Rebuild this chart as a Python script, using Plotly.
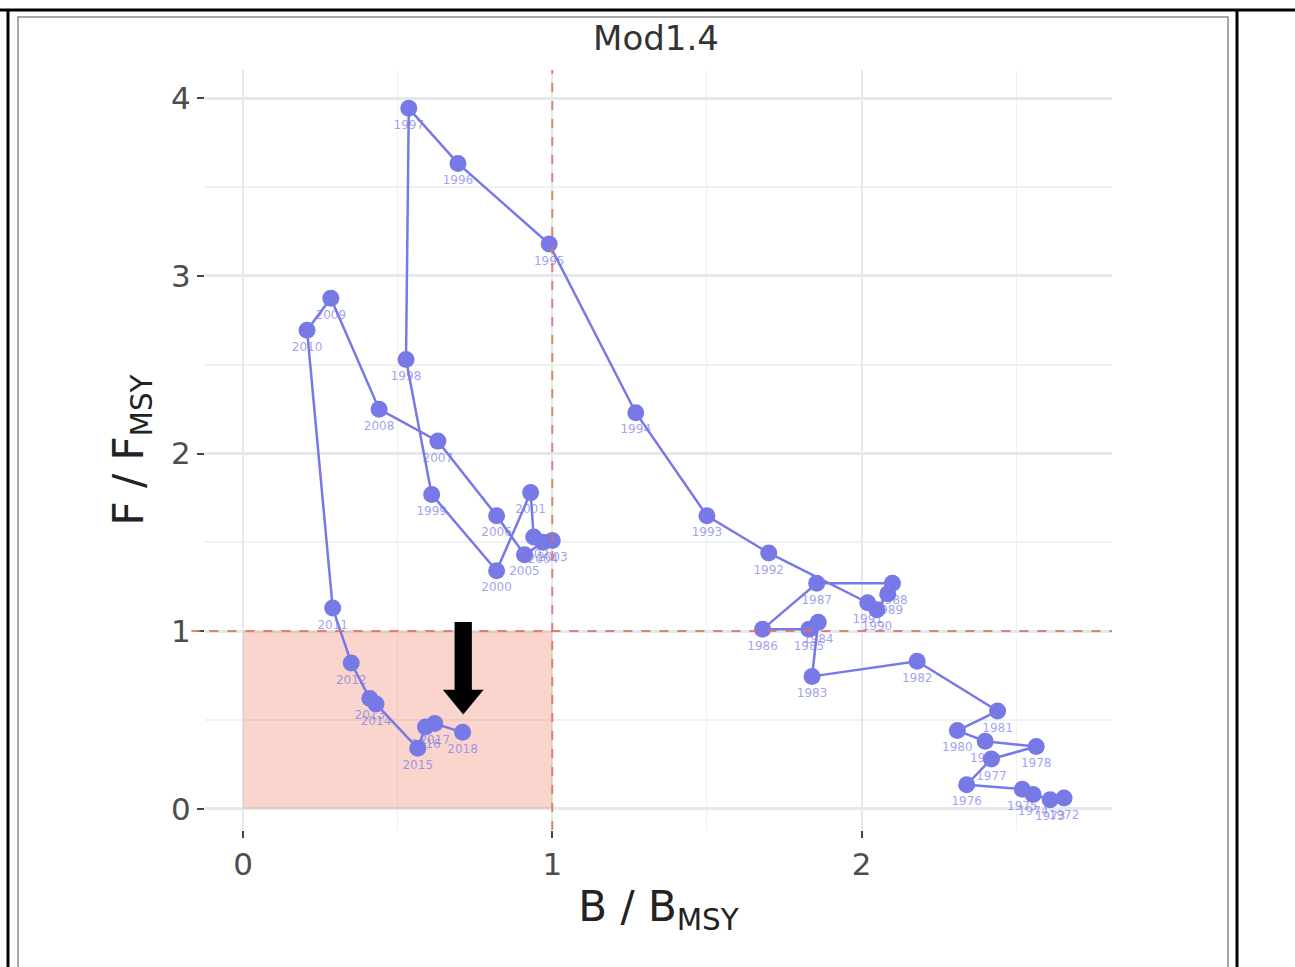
import plotly.graph_objects as go

# ---- data ----
years = list(range(1972, 2019))
b_bmsy = [2.655, 2.61, 2.555, 2.52, 2.34, 2.42, 2.565, 2.40, 2.31, 2.44,
          2.18, 1.84, 1.86, 1.83, 1.68, 1.855, 2.10, 2.085, 2.05, 2.02,
          1.70, 1.50, 1.27, 0.99, 0.695, 0.536, 0.527, 0.61, 0.82, 0.93,
          0.94, 1.0, 0.97, 0.91, 0.82, 0.63, 0.44, 0.284, 0.207, 0.29,
          0.35, 0.41, 0.43, 0.565, 0.59, 0.62, 0.71]
f_fmsy = [0.06, 0.05, 0.08, 0.11, 0.135, 0.28, 0.35, 0.38, 0.44, 0.55,
          0.83, 0.745, 1.05, 1.01, 1.01, 1.27, 1.27, 1.21, 1.12, 1.16,
          1.44, 1.65, 2.23, 3.18, 3.634, 3.944, 2.53, 1.77, 1.34, 1.78,
          1.53, 1.51, 1.50, 1.43, 1.65, 2.07, 2.25, 2.875, 2.695, 1.13,
          0.82, 0.62, 0.59, 0.34, 0.46, 0.48, 0.43]
x_ticks = [0, 1, 2]
y_ticks = [0, 1, 2, 3, 4]
title_text = "Mod1.4"

W, H = 1295, 967
ML, MR, MT, MB = 205, 183, 70, 137
PW, PH = W - ML - MR, H - MT - MB

def px(x):
    return (x - ML) / PW

def py(y):
    return 1 - (y - MT) / PH

pt_color = "#7779e6"

fig = go.Figure()
fig.add_trace(go.Scatter(
    x=b_bmsy, y=f_fmsy, mode="lines+markers+text",
    text=[str(y) for y in years], textposition="bottom center",
    textfont=dict(size=12, color="rgba(120,120,230,0.7)", family="DejaVu Sans"),
    line=dict(color=pt_color, width=2.5),
    marker=dict(color=pt_color, size=17),
    showlegend=False, cliponaxis=False,
))

shapes = []
# pink target zone
shapes.append(dict(type="rect", xref="x", yref="y", x0=0, x1=1, y0=0, y1=1,
                   fillcolor="rgba(235,115,88,0.30)", line=dict(width=0), layer="between"))
# reference lines
shapes.append(dict(type="line", xref="x", yref="paper", x0=1, x1=1, y0=0, y1=1,
                   line=dict(color="rgba(225,110,95,0.85)", width=2, dash="dash"), layer="above"))
shapes.append(dict(type="line", xref="paper", yref="y", x0=-0.015, x1=1, y0=1, y1=1,
                   line=dict(color="rgba(225,110,95,0.85)", width=2, dash="dash"), layer="above"))
# black arrow pointing at the last year
shapes.append(dict(type="rect", xref="x", yref="y", x0=0.684, x1=0.740, y0=0.66, y1=1.052,
                   fillcolor="black", line=dict(width=0), layer="above"))
shapes.append(dict(type="path", xref="x", yref="y",
                   path="M 0.646 0.67 L 0.778 0.67 L 0.712 0.53 Z",
                   fillcolor="black", line=dict(width=0), layer="above"))
# outer frame
shapes.append(dict(type="line", xref="paper", yref="paper", x0=px(0), x1=px(W), y0=py(10), y1=py(10),
                   line=dict(color="black", width=3), layer="above"))
shapes.append(dict(type="line", xref="paper", yref="paper", x0=px(8), x1=px(8), y0=py(10), y1=py(H + 5),
                   line=dict(color="black", width=3), layer="above"))
shapes.append(dict(type="line", xref="paper", yref="paper", x0=px(1237), x1=px(1237), y0=py(10), y1=py(H + 5),
                   line=dict(color="black", width=3), layer="above"))
shapes.append(dict(type="rect", xref="paper", yref="paper", x0=px(18), x1=px(1228), y0=py(17), y1=py(H + 5),
                   line=dict(color="#8a8a8a", width=1.5), fillcolor="rgba(0,0,0,0)", layer="above"))

fig.update_layout(
    width=W, height=H,
    margin=dict(l=ML, r=MR, t=MT, b=MB),
    paper_bgcolor="white", plot_bgcolor="white",
    shapes=shapes,
    title=dict(text=title_text, x=px(656), xanchor="center", y=1 - 38 / H, yanchor="middle",
               xref="paper", font=dict(size=34, color="#333333", family="DejaVu Sans")),
    font=dict(family="DejaVu Sans"),
)
fig.update_xaxes(
    range=[-0.123, 2.81], tickvals=x_ticks, ticktext=[str(v) for v in x_ticks],
    showgrid=True, gridcolor="#e4eaec", gridwidth=2, zeroline=False, showline=False,
    minor=dict(dtick=0.5, tick0=0, showgrid=True, gridcolor="#eef2f3", gridwidth=1),
    ticks="outside", ticklen=7, tickwidth=2, tickcolor="#444444",
    tickfont=dict(size=31, color="#4d4d4d"),
    title=dict(text="B / B<sub>MSY</sub>", font=dict(size=42, color="#222222"), standoff=10),
)
fig.update_yaxes(
    range=[-0.12, 4.16], tickvals=y_ticks, ticktext=[str(v) for v in y_ticks],
    showgrid=True, gridcolor="#e4eaec", gridwidth=3, zeroline=False, showline=False,
    minor=dict(dtick=0.5, tick0=0, showgrid=True, gridcolor="#eef2f3", gridwidth=1.5),
    ticks="outside", ticklen=7, tickwidth=2, tickcolor="#444444",
    tickfont=dict(size=31, color="#4d4d4d"),
    title=dict(text="F / F<sub>MSY</sub>", font=dict(size=42, color="#222222"), standoff=14),
)

fig.write_html("out.html")
